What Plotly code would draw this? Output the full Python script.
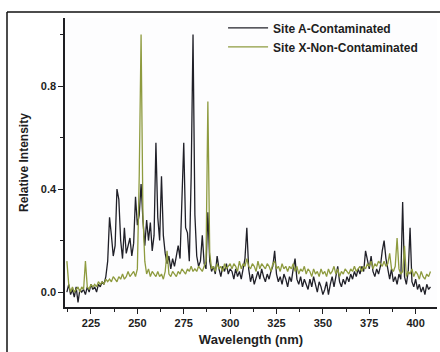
import plotly.graph_objects as go

# Wavelength grid (nm), 1 nm sampling, 212..408
wavelength_nm = list(range(212, 409))

# Site A - Contaminated (relative intensity)
site_a = [
    0.00, 0.03, -0.01, 0.01, -0.02, 0.02, -0.04, 0.01, 0.00,            # 212-220
    0.01, -0.01, 0.02, 0.00, 0.03, 0.01, 0.02, 0.00, 0.03, 0.02,        # 221-230
    0.04, 0.03, 0.06, 0.12, 0.29, 0.22, 0.14, 0.18, 0.40, 0.36,         # 231-240
    0.20, 0.13, 0.25, 0.15, 0.18, 0.21, 0.14, 0.19, 0.37, 0.26,         # 241-250
    0.30, 0.42, 0.28, 0.18, 0.28, 0.20, 0.27, 0.16, 0.22, 0.58,         # 251-260
    0.29, 0.20, 0.45, 0.22, 0.15, 0.11, 0.14, 0.09, 0.13, 0.10,         # 261-270
    0.14, 0.18, 0.13, 0.33, 0.58, 0.25, 0.23, 0.12, 0.45, 1.00,         # 271-280
    0.30, 0.14, 0.10, 0.12, 0.22, 0.11, 0.09, 0.31, 0.12, 0.08,         # 281-290
    0.10, 0.07, 0.14, 0.09, 0.06, 0.10, 0.08, 0.11, 0.07, 0.09,         # 291-300
    0.08, 0.05, 0.09, 0.06, 0.08, 0.05, 0.10, 0.13, 0.25, 0.09,         # 301-310
    0.04, 0.07, 0.03, 0.06, 0.08, 0.05, 0.09, 0.06, 0.04, 0.07,         # 311-320
    0.05, 0.08, 0.10, 0.16, 0.07, 0.04, 0.06, 0.03, 0.07, 0.05,         # 321-330
    0.02, 0.06, 0.04, 0.09, 0.13, 0.05, 0.03, 0.06, 0.02, 0.05,         # 331-340
    0.03, 0.01, 0.05, 0.02, 0.06, 0.03, 0.00, 0.04, 0.02, -0.01,        # 341-350
    0.01, 0.04, -0.01, 0.03, 0.06, 0.02, 0.07, 0.10, 0.04, 0.02,        # 351-360
    0.05, 0.03, 0.06, 0.04, 0.07, 0.05, 0.08, 0.06, 0.09, 0.07,         # 361-370
    0.10, 0.08, 0.16, 0.12, 0.09, 0.14, 0.08, 0.06, 0.09, 0.07,         # 371-380
    0.10, 0.16, 0.20, 0.13, 0.08, 0.05, 0.09, 0.04, 0.06, 0.03,         # 381-390
    0.07, 0.05, 0.35, 0.06, 0.03, 0.08, 0.25, 0.04, 0.02, 0.05,         # 391-400
    0.01, 0.03, 0.00, 0.02, -0.01, 0.03, 0.01, 0.02,                    # 401-408
]

# Site X - Non-Contaminated (relative intensity)
site_x = [
    0.12, 0.03, 0.00, 0.02, 0.00, 0.01, 0.02, 0.00, 0.02,               # 212-220
    0.01, 0.12, 0.02, 0.01, 0.03, 0.02, 0.03, 0.02, 0.04, 0.03,         # 221-230
    0.04, 0.03, 0.05, 0.04, 0.05, 0.04, 0.06, 0.05, 0.04, 0.06,         # 231-240
    0.05, 0.07, 0.05, 0.06, 0.08, 0.06, 0.07, 0.08, 0.06, 0.09,         # 241-250
    0.45, 1.00, 0.30, 0.12, 0.07, 0.09, 0.06, 0.08, 0.07, 0.06,         # 251-260
    0.08, 0.06, 0.07, 0.05, 0.08, 0.16, 0.07, 0.06, 0.08, 0.07,         # 261-270
    0.06, 0.08, 0.07, 0.09, 0.08, 0.07, 0.09, 0.08, 0.10, 0.08,         # 271-280
    0.09, 0.08, 0.10, 0.09, 0.08, 0.10, 0.12, 0.74, 0.15, 0.09,         # 281-290
    0.10, 0.08, 0.11, 0.09, 0.10, 0.08, 0.11, 0.09, 0.10, 0.11,         # 291-300
    0.09, 0.11, 0.10, 0.08, 0.12, 0.09, 0.11, 0.10, 0.13, 0.10,         # 301-310
    0.09, 0.11, 0.10, 0.08, 0.12, 0.09, 0.11, 0.10, 0.09, 0.11,         # 311-320
    0.10, 0.08, 0.11, 0.12, 0.09, 0.10, 0.08, 0.11, 0.09, 0.10,         # 321-330
    0.08, 0.10, 0.09, 0.11, 0.08, 0.10, 0.07, 0.09, 0.08, 0.10,         # 331-340
    0.07, 0.09, 0.08, 0.06, 0.09, 0.07, 0.08, 0.06, 0.09, 0.07,         # 341-350
    0.08, 0.06, 0.09, 0.07, 0.08, 0.10, 0.07, 0.09, 0.06, 0.08,         # 351-360
    0.07, 0.09, 0.08, 0.07, 0.09, 0.08, 0.10, 0.08, 0.09, 0.10,         # 361-370
    0.08, 0.10, 0.09, 0.11, 0.10, 0.12, 0.09, 0.11, 0.10, 0.12,         # 371-380
    0.11, 0.10, 0.12, 0.10, 0.11, 0.15, 0.09, 0.08, 0.10, 0.21,         # 381-390
    0.09, 0.07, 0.08, 0.18, 0.06, 0.08, 0.07, 0.09, 0.06, 0.08,         # 391-400
    0.07, 0.05, 0.08, 0.06, 0.05, 0.07, 0.06, 0.08,                     # 401-408
]

series_names = ["Site A-Contaminated", "Site X-Non-Contaminated"]
x_tick_vals = [225, 250, 275, 300, 325, 350, 375, 400]
y_tick_vals = [0.0, 0.4, 0.8]
y_tick_text = ["0.0", "0.4", "0.8"]

FONT = "Liberation Sans, Arial, sans-serif"
INK = "#1e1e22"

fig = go.Figure()
fig.add_trace(go.Scatter(x=wavelength_nm, y=site_a, mode="lines", name=series_names[0],
                         line=dict(color="#202028", width=1.3)))
fig.add_trace(go.Scatter(x=wavelength_nm, y=site_x, mode="lines", name=series_names[1],
                         line=dict(color="#8e9b3f", width=1.3)))

frame = dict(color="#111", width=1.5)

fig.update_layout(
    width=440, height=352,
    margin=dict(l=7, r=0, t=12, b=0, autoexpand=False),
    paper_bgcolor="white", plot_bgcolor="#fdfdfe",
    font=dict(family=FONT, size=11, color=INK, weight="bold"),
    showlegend=True,
    legend=dict(x=0.499, y=0.996, xanchor="left", yanchor="top", itemwidth=40,
                bgcolor="rgba(0,0,0,0)", font=dict(size=12, family=FONT, color=INK, weight="bold"),
                tracegroupgap=0),
    xaxis=dict(domain=[0.134, 0.993], range=[211, 411.5], tickvals=x_tick_vals, ticks="outside",
               ticklen=5, tickwidth=1.2, automargin=False,
               tickcolor=INK, showline=True, linecolor=INK, linewidth=1.5, showgrid=False,
               zeroline=False, tickfont=dict(size=11, family=FONT, color=INK, weight="bold"),
               minor=dict(dtick=12.5, tick0=225, ticks="outside", ticklen=3, tickcolor=INK),
               title=dict(text="Wavelength (nm)", font=dict(size=13, family=FONT, color=INK, weight="bold"),
                          standoff=7)),
    yaxis=dict(domain=[0.1324, 0.982], range=[-0.058, 1.064], tickvals=y_tick_vals, ticktext=y_tick_text,
               ticks="outside", automargin=False,
               ticklen=5, tickwidth=1.2, tickcolor=INK, showline=True, linecolor=INK, linewidth=1.5,
               showgrid=False, zeroline=False,
               tickfont=dict(size=11, family=FONT, color=INK, weight="bold"),
               minor=dict(dtick=0.2, tick0=0, ticks="outside", ticklen=3, tickcolor=INK),
               title=dict(text="Relative Intensity", font=dict(size=12, family=FONT, color=INK, weight="bold"),
                          standoff=10)),
    shapes=[
        dict(type="line", xref="paper", yref="paper", x0=0, x1=1, y0=1, y1=1, line=frame),
        dict(type="line", xref="paper", yref="paper", x0=0, x1=0, y0=0, y1=1, line=frame),
    ],
)

fig.write_html("out.html")
